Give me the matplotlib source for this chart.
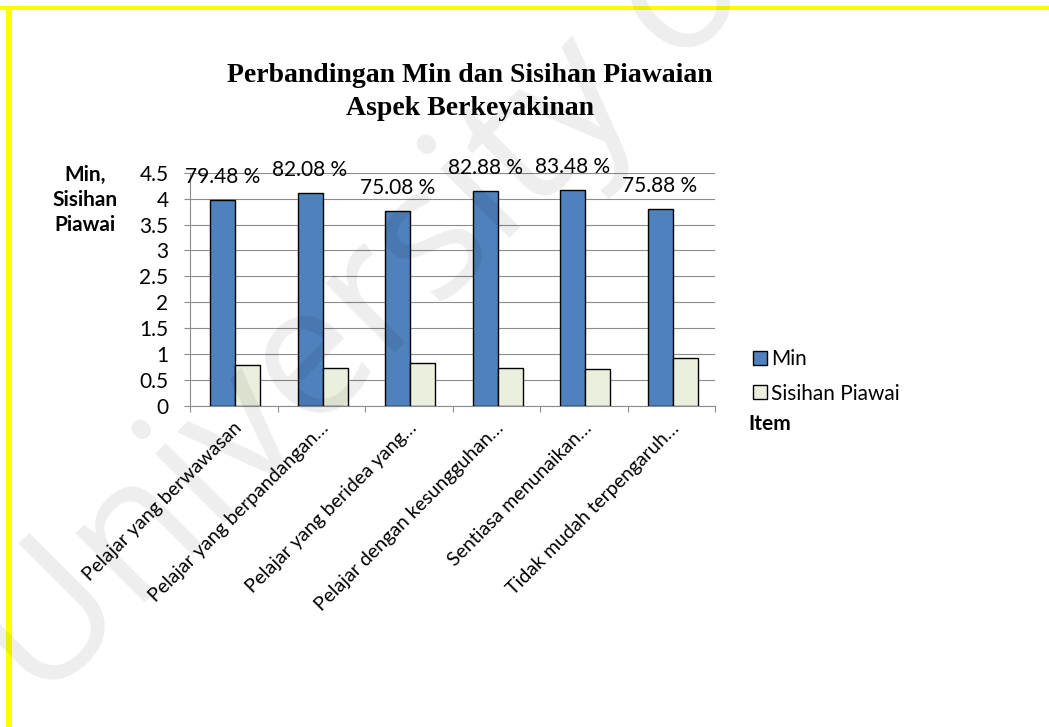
import matplotlib
matplotlib.use("Agg")
import matplotlib.pyplot as plt
from matplotlib.patches import Patch, Rectangle
from matplotlib.transforms import ScaledTranslation
import numpy as np

# ---------------- data ----------------
categories = [
    "Pelajar yang berwawasan",
    "Pelajar yang berpandangan\u2026",
    "Pelajar yang beridea yang\u2026",
    "Pelajar dengan kesungguhan\u2026",
    "Sentiasa menunaikan\u2026",
    "Tidak mudah terpengaruh\u2026",
]
min_values = [3.974, 4.104, 3.754, 4.144, 4.174, 3.794]
sd_values = [0.79, 0.73, 0.82, 0.74, 0.72, 0.92]
pct_labels = ["79.48 %", "82.08 %", "75.08 %", "82.88 %", "83.48 %", "75.88 %"]
y_ticks = [0, 0.5, 1, 1.5, 2, 2.5, 3, 3.5, 4, 4.5]
y_tick_labels = ["0", "0.5", "1", "1.5", "2", "2.5", "3", "3.5", "4", "4.5"]
series_names = ["Min", "Sisihan Piawai"]
title_text = "Perbandingan Min dan Sisihan Piawaian\nAspek Berkeyakinan"
y_label_text = "Min,\nSisihan\nPiawai"
x_label_text = "Item"
watermark_text = "University of Malaya"

# ---------------- style ----------------
W, H = 1049, 727
DPI = 100
FONT = "Lato"
FS = 15
GRID = "#8c8c8c"
C_MIN = "#4F81BD"
C_SD = "#EBF0DE"
YELLOW = "#FFFF00"

plt.rcParams["font.family"] = [FONT, "DejaVu Sans"]

fig = plt.figure(figsize=(W / DPI, H / DPI), dpi=DPI)
fig.patch.set_facecolor("white")


def px(x, y):
    return x / W, 1 - y / H


# axes placement (pixels)
ax_l, ax_r, ax_t, ax_b = 190, 715, 172.7, 406
ax = fig.add_axes([ax_l / W, 1 - ax_b / H, (ax_r - ax_l) / W, (ax_b - ax_t) / H])

n = len(categories)
x = np.arange(n)
w = 0.286
off = 0.015
ax.bar(x - w / 2 + off, min_values, w, color=C_MIN, edgecolor="black", linewidth=1.0, zorder=3)
ax.bar(x + w / 2 + off, sd_values, w, color=C_SD, edgecolor="black", linewidth=1.0, zorder=3)

for xi, v, lab in zip(x, min_values, pct_labels):
    ax.annotate(lab, (xi - w / 2 + off, v), xytext=(0, 23), textcoords="offset pixels",
                ha="center", va="center", fontsize=FS, color="black", zorder=5)

ax.set_xlim(-0.5, n - 0.5)
ax.set_ylim(0, 4.5)
ax.set_yticks(y_ticks)
ax.set_yticklabels(y_tick_labels, fontsize=FS)
ax.yaxis.grid(True, color=GRID, linewidth=0.8, zorder=0)
ax.set_axisbelow(True)

ax.set_xticks(np.arange(n + 1) - 0.5)
ax.set_xticklabels([])
ax.set_xticks(x, minor=True)
ax.set_xticklabels(categories, minor=True, rotation=45, ha="right",
                   rotation_mode="anchor", va="center", fontsize=14)
ax.tick_params(axis="x", which="minor", length=0, pad=14)
ax.tick_params(axis="x", which="major", length=4.5, color=GRID, width=0.8)
ax.tick_params(axis="y", length=4.5, color=GRID, width=0.8, pad=11)
for lab in ax.get_xticklabels(minor=True):
    lab.set_transform(lab.get_transform() + ScaledTranslation(5 / DPI, 0, fig.dpi_scale_trans))

for s in ["top", "right"]:
    ax.spines[s].set_visible(False)
for s in ["left", "bottom"]:
    ax.spines[s].set_color(GRID)
    ax.spines[s].set_linewidth(0.8)

# title
tx, ty = px(470, 92)
fig.text(tx, ty, title_text, ha="center", va="center", fontsize=20, fontweight="bold",
         family=["Liberation Serif", "DejaVu Serif"], linespacing=1.42)

# y label
lx, ly = px(85, 200)
fig.text(lx, ly, y_label_text, ha="center", va="center", fontsize=FS, fontweight="bold",
         linespacing=1.32)

# x label "Item"
ix, iy = px(748, 424)
fig.text(ix, iy, x_label_text, ha="left", va="center", fontsize=FS, fontweight="bold")

# legend
handles = [Patch(facecolor=C_MIN, edgecolor="black", linewidth=1.0),
           Patch(facecolor=C_SD, edgecolor="black", linewidth=1.0)]
lgx, lgy = px(753, 349)
fig.legend(handles, series_names, loc="upper left", bbox_to_anchor=(lgx, lgy),
           frameon=False, fontsize=FS, handlelength=0.68, handleheight=0.68,
           handletextpad=0.18, labelspacing=0.7, borderpad=0, borderaxespad=0)

# yellow frame (top and left)
fig.add_artist(Rectangle((0, 1 - 10 / H), 1, 4 / H, transform=fig.transFigure,
                         facecolor=YELLOW, edgecolor="none", zorder=10))
fig.add_artist(Rectangle((6 / W, 0), 6 / W, 1 - 6 / H, transform=fig.transFigure,
                         facecolor=YELLOW, edgecolor="none", zorder=10))

# watermark
wx, wy = px(40, 708)
fig.text(wx, wy, watermark_text, ha="left", va="baseline", rotation=45,
         rotation_mode="anchor", fontsize=132, color="black", alpha=0.07, zorder=20,
         family=["Open Sans", "DejaVu Sans"])

fig.savefig("out.png", dpi=DPI, facecolor="white")
